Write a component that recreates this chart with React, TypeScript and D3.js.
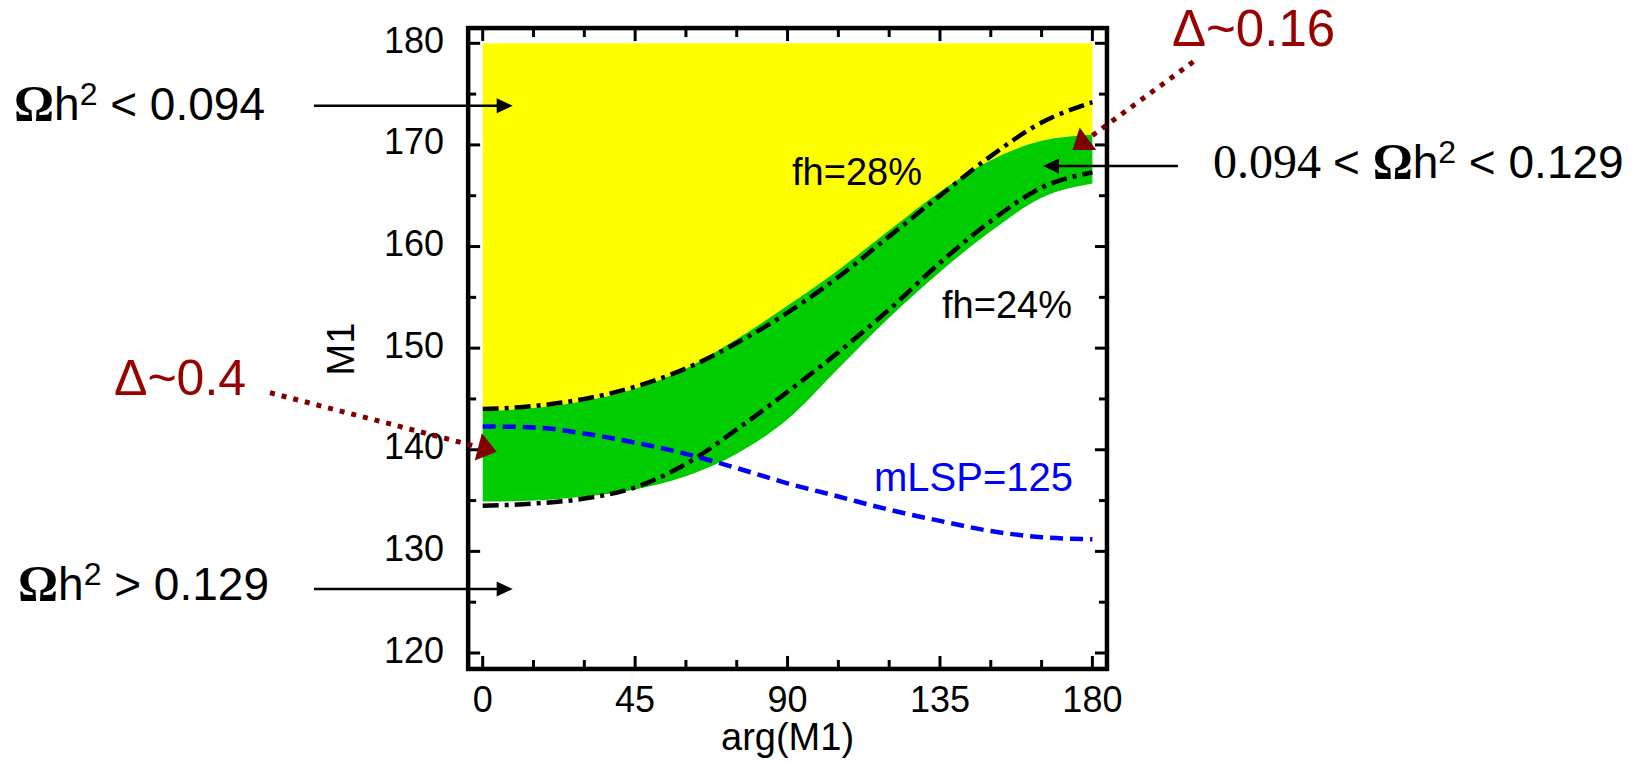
import React from "react";
import * as d3 from "d3";

// arg(M1) grid in degrees
const ARG = [0, 15, 30, 45, 60, 75, 90, 105, 120, 135, 150, 165, 180];
// band 0.094 < Ωh² < 0.129 (green), upper and lower edges in M1
const GREEN_UPPER = [143.8, 144.1, 144.8, 146.0, 148.0, 150.9, 154.2, 157.7, 161.6, 165.4, 168.5, 170.4, 171.0];
const GREEN_LOWER = [134.9, 135.0, 135.4, 136.1, 137.4, 139.6, 143.0, 148.0, 153.0, 157.5, 161.5, 164.8, 166.2];
// fine-tuning contours
const FH28 = [144.0, 144.3, 145.0, 146.2, 148.0, 150.5, 153.5, 157.0, 161.0, 165.0, 168.9, 172.2, 174.2];
const FH24 = [134.5, 134.7, 135.2, 136.3, 138.6, 142.0, 145.7, 149.6, 153.8, 158.4, 162.5, 165.8, 167.3];
// mLSP = 125 contour
const MLSP125 = [142.3, 142.2, 141.6, 140.7, 139.6, 138.2, 136.7, 135.4, 134.1, 133.0, 132.0, 131.4, 131.2];

const X_TICKS = [0, 45, 90, 135, 180];
const X_MINOR = [0, 15, 30, 45, 60, 75, 90, 105, 120, 135, 150, 165, 180];
const Y_TICKS = [120, 130, 140, 150, 160, 170, 180];
const Y_MINOR = [120, 125, 130, 135, 140, 145, 150, 155, 160, 165, 170, 175, 180];

const X_FRAME = [-4.3, 184.3];
const Y_FRAME = [118.43, 181.5];
const Y_TOP = 180;

const SANS = "'Liberation Sans', Arial, sans-serif";
const SERIF = "'Liberation Serif', 'Times New Roman', serif";
const DARKRED = "#990000";
const ARROWRED = "#800000";

function arrowHead(tipX: number, tipY: number, fromX: number, fromY: number, len: number, half: number) {
  const dx = tipX - fromX, dy = tipY - fromY;
  const L = Math.hypot(dx, dy);
  const ux = dx / L, uy = dy / L;
  const bx = tipX - ux * len, by = tipY - uy * len;
  const px = -uy, py = ux;
  return `M${tipX},${tipY}L${bx + px * half},${by + py * half}L${bx - px * half},${by - py * half}Z`;
}

export default function App() {
  const x = d3.scaleLinear().domain([0, 180]).range([482.7, 1092.4]);
  const y = d3.scaleLinear().domain([120, 180]).range([653, 43.3]);

  const idx = ARG.map((_, i) => i);
  const yellowArea = d3
    .area<number>()
    .x((i) => x(ARG[i]))
    .y0((i) => y(GREEN_UPPER[i]))
    .y1(() => y(Y_TOP))
    .curve(d3.curveMonotoneX);
  const greenArea = d3
    .area<number>()
    .x((i) => x(ARG[i]))
    .y0((i) => y(GREEN_LOWER[i]))
    .y1((i) => y(GREEN_UPPER[i]))
    .curve(d3.curveMonotoneX);
  const mkLine = (vals: number[]) =>
    d3
      .line<number>()
      .x((i) => x(ARG[i]))
      .y((i) => y(vals[i]))
      .curve(d3.curveMonotoneX)(idx) as string;

  const fl = x(X_FRAME[0]), fr = x(X_FRAME[1]);
  const ft = y(Y_FRAME[1]), fb = y(Y_FRAME[0]);

  // dotted red arrows
  const a1 = { x0: 270, y0: 392.7, x1: 496.7, y1: 451.7 };
  const a2 = { x0: 1193.3, y0: 61.7, x1: 1072.6, y1: 150 };
  const shorten = (a: any, d: number) => {
    const L = Math.hypot(a.x1 - a.x0, a.y1 - a.y0);
    return { x: a.x1 - ((a.x1 - a.x0) / L) * d, y: a.y1 - ((a.y1 - a.y0) / L) * d };
  };
  const a1e = shorten(a1, 16);
  const a2e = shorten(a2, 16);

  return (
    <svg
      width={1639}
      height={765}
      style={{ position: "absolute", left: 0, top: 0, background: "#fff" }}
      fontFamily={SANS}
    >
      <rect x={0} y={0} width={1639} height={765} fill="#fff" />
      {/* regions */}
      <path d={yellowArea(idx) as string} fill="#ffff00" />
      <path d={greenArea(idx) as string} fill="#00cc00" />

      {/* contours */}
      <path d={mkLine(FH28)} fill="none" stroke="#000" strokeWidth={4.5} strokeDasharray="16 6 4 6" />
      <path d={mkLine(FH24)} fill="none" stroke="#000" strokeWidth={4.5} strokeDasharray="16 6 4 6" />
      <path d={mkLine(MLSP125)} fill="none" stroke="#0000ff" strokeWidth={4.5} strokeDasharray="13 7" />

      {/* frame */}
      <rect x={fl} y={ft} width={fr - fl} height={fb - ft} fill="none" stroke="#000" strokeWidth={4.5} />
      {/* y ticks */}
      {Y_MINOR.map((v) => {
        const major = Y_TICKS.includes(v);
        const len = major ? 12 : 8;
        return (
          <g key={"yt" + v}>
            <line x1={fl} x2={fl + len} y1={y(v)} y2={y(v)} stroke="#000" strokeWidth={3} />
            <line x1={fr} x2={fr - len} y1={y(v)} y2={y(v)} stroke="#000" strokeWidth={3} />
          </g>
        );
      })}
      {X_MINOR.map((v) => {
        const major = X_TICKS.includes(v);
        const len = major ? 13 : 9;
        return (
          <g key={"xt" + v}>
            <line x1={x(v)} x2={x(v)} y1={fb} y2={fb - len} stroke="#000" strokeWidth={3} />
            <line x1={x(v)} x2={x(v)} y1={ft} y2={ft + len} stroke="#000" strokeWidth={3} />
          </g>
        );
      })}
      {Y_TICKS.map((v) => (
        <text key={"yl" + v} x={444} y={y(v) + 9.5} fontSize={36} textAnchor="end" fill="#000">
          {v}
        </text>
      ))}
      {X_TICKS.map((v) => (
        <text key={"xl" + v} x={x(v)} y={712} fontSize={36} textAnchor="middle" fill="#000">
          {v}
        </text>
      ))}
      <text x={x(90)} y={750} fontSize={38} textAnchor="middle" fill="#000">
        arg(M1)
      </text>
      <text x={0} y={0} fontSize={38} textAnchor="middle" fill="#000" transform="translate(354,349) rotate(-90)">
        M1
      </text>

      {/* curve labels */}
      <text x={792} y={185} fontSize={38} fill="#000">fh=28%</text>
      <text x={942} y={318} fontSize={38} fill="#000">fh=24%</text>
      <text x={874} y={491} fontSize={40} fill="#0000ff">mLSP=125</text>

      {/* region annotations */}
      <text x={14} y={120} fontSize={46} fill="#000">
        <tspan fontFamily={SERIF} fontWeight="bold" fontSize={50}>Ω</tspan>
        <tspan>h</tspan>
        <tspan fontSize={32} dy={-15}>2</tspan>
        <tspan dy={15}>{" < 0.094"}</tspan>
      </text>
      <text x={18} y={600} fontSize={46} fill="#000">
        <tspan fontFamily={SERIF} fontWeight="bold" fontSize={50}>Ω</tspan>
        <tspan>h</tspan>
        <tspan fontSize={32} dy={-15}>2</tspan>
        <tspan dy={15}>{" > 0.129"}</tspan>
      </text>
      <text x={1213} y={178} fontSize={46} fill="#000">
        <tspan fontFamily={SERIF} fontSize={48}>{"0.094 "}</tspan>
        <tspan>{"< "}</tspan>
        <tspan fontFamily={SERIF} fontWeight="bold" fontSize={50}>Ω</tspan>
        <tspan>h</tspan>
        <tspan fontSize={32} dy={-15}>2</tspan>
        <tspan dy={15}>{" < 0.129"}</tspan>
      </text>

      {/* black arrows */}
      <line x1={314} x2={500} y1={105.7} y2={105.7} stroke="#000" strokeWidth={2.5} />
      <path d={arrowHead(512.7, 105.7, 314, 105.7, 16, 7.5)} fill="#000" />
      <line x1={314} x2={500} y1={589} y2={589} stroke="#000" strokeWidth={2.5} />
      <path d={arrowHead(512.7, 589, 314, 589, 16, 7.5)} fill="#000" />
      <line x1={1178} x2={1055} y1={166} y2={166} stroke="#000" strokeWidth={2.5} />
      <path d={arrowHead(1043, 166, 1178, 166, 16, 7.5)} fill="#000" />

      {/* red delta annotations */}
      <text x={114} y={395} fontSize={50} fill={DARKRED}>Δ~0.4</text>
      <text x={1172} y={46} fontSize={51} fill={DARKRED}>Δ~0.16</text>
      <line x1={a1.x0} y1={a1.y0} x2={a1e.x} y2={a1e.y} stroke={ARROWRED} strokeWidth={5} strokeDasharray="5 7" />
      <path d={arrowHead(a1.x1, a1.y1, a1.x0, a1.y0, 19, 14)} fill={ARROWRED} />
      <line x1={a2.x0} y1={a2.y0} x2={a2e.x} y2={a2e.y} stroke={ARROWRED} strokeWidth={5} strokeDasharray="5 7" />
      <path d={arrowHead(a2.x1, a2.y1, a2.x0, a2.y0, 19, 14)} fill={ARROWRED} />
    </svg>
  );
}
